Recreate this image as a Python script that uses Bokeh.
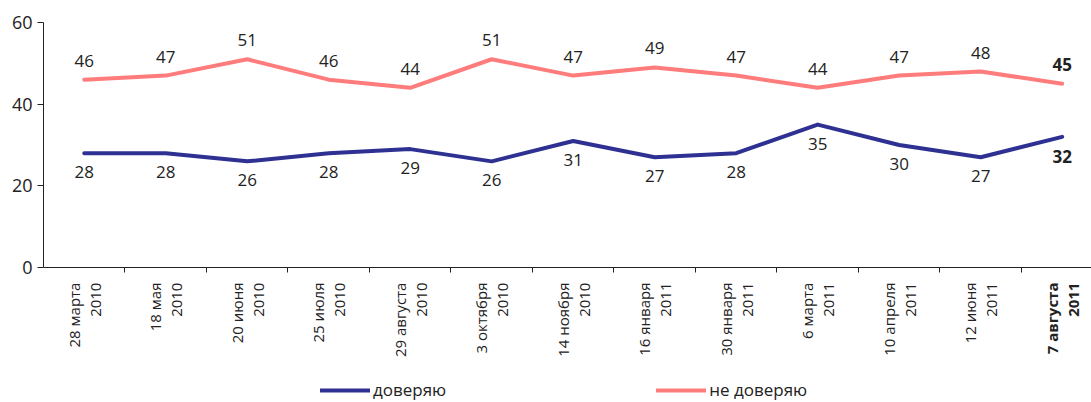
import math
from bokeh.plotting import figure
from bokeh.models import (FixedTicker, Legend, LegendItem, Range1d, ColumnDataSource)
from bokeh.core.properties import value
from bokeh.embed import file_html
from bokeh.resources import INLINE

dates = ["28 марта\n2010", "18 мая\n2010", "20 июня\n2010", "25 июля\n2010",
         "29 августа\n2010", "3 октября\n2010", "14 ноября\n2010", "16 января\n2011",
         "30 января\n2011", "6 марта\n2011", "10 апреля\n2011", "12 июня\n2011",
         "7 августа\n2011"]
trust = [28, 28, 26, 28, 29, 26, 31, 27, 28, 35, 30, 27, 32]
distrust = [46, 47, 51, 46, 44, 51, 47, 49, 47, 44, 47, 48, 45]
series_names = ["доверяю", "не доверяю"]

FONT = "Open Sans"
BLUE = "#2e3192"
PINK = "#ff7c7c"
INK = "#222222"

xs = list(range(len(dates)))

p = figure(frame_width=1048, frame_height=379, output_backend="svg", toolbar_location=None,
           x_range=Range1d(-0.5, 12.36), y_range=Range1d(-32.8, 60),
           min_border_left=43, min_border_right=0, min_border_top=22,
           min_border_bottom=0)
p.outline_line_color = None
p.grid.grid_line_color = None
p.background_fill_color = "white"

r1 = p.line(xs, trust, line_color=BLUE, line_width=4, line_cap="round", line_join="round")
r2 = p.line(xs, distrust, line_color=PINK, line_width=4, line_cap="round", line_join="round")

weights = ["normal"] * (len(dates) - 1) + ["bold"]
src = ColumnDataSource(dict(x=xs, t=trust, d=distrust, zero=[0] * len(xs),
                            tl=[str(v) for v in trust], dl=[str(v) for v in distrust],
                            lab=dates, w=weights))
p.text(x="x", y="d", text="dl", source=src, text_font=value(FONT), text_font_size="17px",
       text_font_style="w", text_align="center", text_baseline="bottom", y_offset=-13,
       text_color=INK)
p.text(x="x", y="t", text="tl", source=src, text_font=value(FONT), text_font_size="17px",
       text_font_style="w", text_align="center", text_baseline="top", y_offset=13,
       text_color=INK)
# category labels under the axis
p.text(x="x", y="zero", text="lab", source=src, text_font=value(FONT), text_font_size="15px",
       text_font_style="w", text_align="right", text_baseline="middle", angle=math.pi / 2,
       y_offset=15, text_color=INK, text_line_height=1.05)

# y axis
p.yaxis.ticker = FixedTicker(ticks=[0, 20, 40, 60])
p.yaxis.bounds = (0, 60)
p.yaxis.major_label_text_font = FONT
p.yaxis.major_label_text_font_size = "18px"
p.yaxis.major_label_text_color = INK
p.yaxis.axis_line_color = INK
p.yaxis.major_tick_line_color = INK
p.yaxis.major_tick_in = 0
p.yaxis.major_tick_out = 6
p.yaxis.minor_tick_line_color = None

# x axis drawn at y = 0
p.xaxis.fixed_location = 0
p.xaxis.ticker = FixedTicker(ticks=xs, minor_ticks=[i + 0.5 for i in xs])
p.xaxis.major_label_text_font_size = "0px"
p.xaxis.major_label_text_alpha = 0
p.xaxis.axis_line_color = INK
p.xaxis.major_tick_line_color = None
p.xaxis.minor_tick_line_color = INK
p.xaxis.minor_tick_in = 0
p.xaxis.minor_tick_out = 5

legend = Legend(items=[LegendItem(label=series_names[0], renderers=[r1]),
                       LegendItem(label=series_names[1], renderers=[r2])],
                orientation="horizontal", location=(277, 0),
                label_text_font=FONT, label_text_font_size="17px",
                label_text_color=INK, glyph_width=50, spacing=210,
                label_standoff=3, border_line_color=None, margin=0, padding=0,
                background_fill_alpha=0)
p.add_layout(legend, "center")

open("out.html", "w").write(file_html(p, INLINE))
